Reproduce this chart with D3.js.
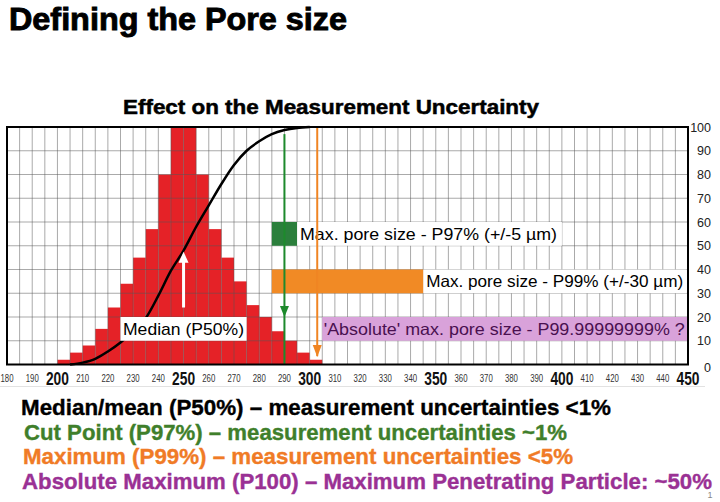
<!DOCTYPE html>
<html>
<head>
<meta charset="utf-8">
<script src="https://cdn.jsdelivr.net/npm/d3@7/dist/d3.min.js"></script>
<style>
  html, body { margin: 0; padding: 0; background: #fff; }
  svg { display: block; }
  text { font-family: "Liberation Sans", Arial, Helvetica, sans-serif; }
</style>
</head>
<body>
<svg id="chart" width="720" height="502"></svg>
<script>
// ---------- data ----------
const binStarts = [200,205,210,215,220,225,230,235,240,245,250,255,260,265,270,275,280,285,290,295,300];
const binValues = [2,5,8,15,24,34,45,57,80,100,100,80,57,45,35,25,20,14,10,5,2];
const binWidth = 5;

const curveX = [205,210,215,220,225,230,235,240,245,250,255,260,265,270,275,280,285,290,295,300];
const curveY = [0,0.8,2.4,5.5,9.3,14,19.5,29,39.5,48,58,67,76,84,90,94,97,98.7,99.6,100];

const xMinorTicks = [180,190,210,220,230,240,260,270,280,290,310,320,330,340,360,370,380,390,410,420,430,440];
const xMajorTicks = [200,250,300,350,400,450];
const yTicks = [0,10,20,30,40,50,60,70,80,90,100];

const medianValue = 250;
const p97Value = 290;
const p99Value = 303;

// annotation boxes: [x0, x1, y0, y1] in data units
const p97Marker = [285, 295, 50, 60];
const p97LabelBox = [295, 400, 50, 60];
const p99Marker = [285, 345, 30, 40];
const p99LabelBox = [345, 449.5, 30, 40];
const absBox = [305, 450, 10, 20];
const medianBox = [225, 275, 10, 20];

const title = "Defining the Pore size";
const subtitle = "Effect on the Measurement Uncertainty";
const p97Label = "Max. pore size - P97% (+/-5 \u00b5m)";
const p99Label = "Max. pore size - P99% (+/-30 \u00b5m)";
const absLabel = "'Absolute' max. pore size - P99.99999999% ?";
const medianLabel = "Median (P50%)";
const bottomLines = [
  {text: "Median/mean (P50%) \u2013 measurement uncertainties <1%", color: "#000000"},
  {text: "Cut Point (P97%) \u2013 measurement uncertainties ~1%", color: "#3f7f2b"},
  {text: "Maximum (P99%) \u2013 measurement uncertainties <5%", color: "#f07b26"},
  {text: "Absolute Maximum (P100) \u2013 Maximum Penetrating Particle: ~50%", color: "#9a3194"}
];

// ---------- drawing ----------
const svg = d3.select("#chart");
svg.append("rect").attr("width", 720).attr("height", 502).attr("fill", "#fff");

const x = d3.scaleLinear().domain([180, 450]).range([7, 688]);
const y = d3.scaleLinear().domain([0, 100]).range([364.5, 127]);

// title
svg.append("text").attr("x", 9).attr("y", 30)
  .attr("font-size", 31).attr("font-weight", "bold")
  .attr("stroke", "#000").attr("stroke-width", 0.9)
  .attr("textLength", 338).attr("lengthAdjust", "spacingAndGlyphs")
  .text(title);
svg.append("text").attr("x", 123).attr("y", 114)
  .attr("font-size", 20.5).attr("font-weight", "bold")
  .attr("stroke", "#000").attr("stroke-width", 0.5)
  .attr("textLength", 416).attr("lengthAdjust", "spacingAndGlyphs")
  .text(subtitle);

const plot = svg.append("g");

// histogram bars
plot.selectAll("rect.bar").data(binStarts).join("rect")
  .attr("class", "bar")
  .attr("x", d => x(d))
  .attr("width", d => x(d + binWidth) - x(d))
  .attr("y", (d, i) => y(binValues[i]))
  .attr("height", (d, i) => y(0) - y(binValues[i]))
  .attr("fill", "#e52227");

// grid
const vGrid = d3.range(180, 451, 5);
plot.selectAll("line.vg").data(vGrid).join("line")
  .attr("x1", d => x(d)).attr("x2", d => x(d))
  .attr("y1", y(100)).attr("y2", y(0))
  .attr("stroke", "#555").attr("stroke-opacity", 0.5).attr("stroke-width", 1);
plot.selectAll("line.hg").data(yTicks).join("line")
  .attr("x1", x(180)).attr("x2", x(450))
  .attr("y1", d => y(d)).attr("y2", d => y(d))
  .attr("stroke", "#555").attr("stroke-opacity", 0.5).attr("stroke-width", 1);

// boxes helper
function box(b, fill) {
  return plot.append("rect")
    .attr("x", x(b[0])).attr("width", x(b[1]) - x(b[0]))
    .attr("y", y(b[3])).attr("height", y(b[2]) - y(b[3]))
    .attr("fill", fill);
}

// cumulative curve
const line = d3.line().x((d, i) => x(d)).y((d, i) => y(curveY[i])).curve(d3.curveMonotoneX);
plot.append("path").datum(curveX).attr("d", line)
  .attr("fill", "none").attr("stroke", "#000").attr("stroke-width", 2.5);

// white median arrow
plot.append("line")
  .attr("x1", x(medianValue)).attr("x2", x(medianValue))
  .attr("y1", y(24)).attr("y2", y(45))
  .attr("stroke", "#fff").attr("stroke-width", 3);
plot.append("path")
  .attr("d", `M${x(medianValue)-5},${y(47.5)+11} L${x(medianValue)+5},${y(47.5)+11} L${x(medianValue)},${y(47.5)} Z`)
  .attr("fill", "#fff");

// median label box
box(medianBox, "#fff");
plot.append("text")
  .attr("x", x(medianBox[0]) + 2.5).attr("y", y(15) + 6)
  .attr("font-size", 17)
  .attr("textLength", 121).attr("lengthAdjust", "spacingAndGlyphs")
  .text(medianLabel);

// P97 marker + label
box(p97LabelBox, "#fff");
box(p97Marker, "#2b7f3c");
plot.append("text")
  .attr("x", x(p97LabelBox[0]) + 3).attr("y", y(55) + 6)
  .attr("font-size", 16.5)
  .attr("textLength", 257).attr("lengthAdjust", "spacingAndGlyphs")
  .text(p97Label);

// P99 marker + label
box(p99LabelBox, "#fff");
box(p99Marker, "#f18a25");
plot.append("text")
  .attr("x", x(p99LabelBox[0]) + 3).attr("y", y(35) + 6)
  .attr("font-size", 16.5)
  .attr("textLength", 257).attr("lengthAdjust", "spacingAndGlyphs")
  .text(p99Label);

// absolute box
box(absBox, "#d9a2da");
plot.append("text")
  .attr("x", x(absBox[0]) + 1.5).attr("y", y(15) + 6)
  .attr("font-size", 16.5).attr("fill", "#4a1050")
  .attr("textLength", 361).attr("lengthAdjust", "spacingAndGlyphs")
  .text(absLabel);

// green P97 line with arrowhead
plot.append("line")
  .attr("x1", x(p97Value)).attr("x2", x(p97Value))
  .attr("y1", y(97)).attr("y2", y(0))
  .attr("stroke", "#1d8a2c").attr("stroke-width", 2);
plot.append("path")
  .attr("d", `M${x(p97Value)-4.5},${y(20)-11} L${x(p97Value)+4.5},${y(20)-11} L${x(p97Value)},${y(20)} Z`)
  .attr("fill", "#1d8a2c");

// orange P99 line with arrowhead
plot.append("line")
  .attr("x1", x(p99Value)).attr("x2", x(p99Value))
  .attr("y1", y(100)).attr("y2", y(3.5))
  .attr("stroke", "#f08523").attr("stroke-width", 2);
plot.append("path")
  .attr("d", `M${x(p99Value)-4.5},${y(3.2)-12} L${x(p99Value)+4.5},${y(3.2)-12} L${x(p99Value)},${y(3.2)} Z`)
  .attr("fill", "#f08523");

// frame
plot.append("rect")
  .attr("x", x(180)).attr("y", y(100))
  .attr("width", x(450) - x(180)).attr("height", y(0) - y(100))
  .attr("fill", "none").attr("stroke", "#000").attr("stroke-width", 2);

// y axis labels (right)
svg.selectAll("text.yl").data(yTicks).join("text")
  .attr("class", "yl")
  .attr("x", 711).attr("y", d => y(d) + (d === 0 ? 7 : 4.5))
  .attr("text-anchor", "end").attr("font-size", 12.5).attr("fill", "#222")
  .text(d => d);

// x axis labels
svg.selectAll("text.xmin").data(xMinorTicks).join("text")
  .attr("class", "xmin")
  .attr("x", d => x(d)).attr("y", 382)
  .attr("text-anchor", "middle").attr("font-size", 10).attr("fill", "#333")
  .attr("textLength", 13).attr("lengthAdjust", "spacingAndGlyphs")
  .text(d => d);
svg.selectAll("text.xmaj").data(xMajorTicks).join("text")
  .attr("class", "xmaj")
  .attr("x", d => x(d)).attr("y", 385)
  .attr("text-anchor", "middle").attr("font-size", 17.5).attr("font-weight", "bold").attr("fill", "#111")
  .attr("textLength", 23).attr("lengthAdjust", "spacingAndGlyphs")
  .text(d => d);

// faint separator line
svg.append("line").attr("x1", 0).attr("x2", 705).attr("y1", 386.5).attr("y2", 386.5)
  .attr("stroke", "#e2e2e2").attr("stroke-width", 1);

// bottom text lines
const bottomWidths = [590, 543, 550, 690];
const bottomX = [21, 24, 23, 22];
svg.selectAll("text.bl").data(bottomLines).join("text")
  .attr("class", "bl")
  .attr("x", (d, i) => bottomX[i]).attr("y", (d, i) => 415 + i * 24.5)
  .attr("font-size", 21.5).attr("font-weight", "bold")
  .attr("fill", d => d.color).attr("stroke", d => d.color).attr("stroke-width", 0.35)
  .attr("textLength", (d, i) => bottomWidths[i]).attr("lengthAdjust", "spacingAndGlyphs")
  .text(d => d.text);

// page number
svg.append("text").attr("x", 710).attr("y", 498).attr("font-size", 9).attr("fill", "#888")
  .attr("text-anchor", "middle").text("1");
</script>
</body>
</html>
